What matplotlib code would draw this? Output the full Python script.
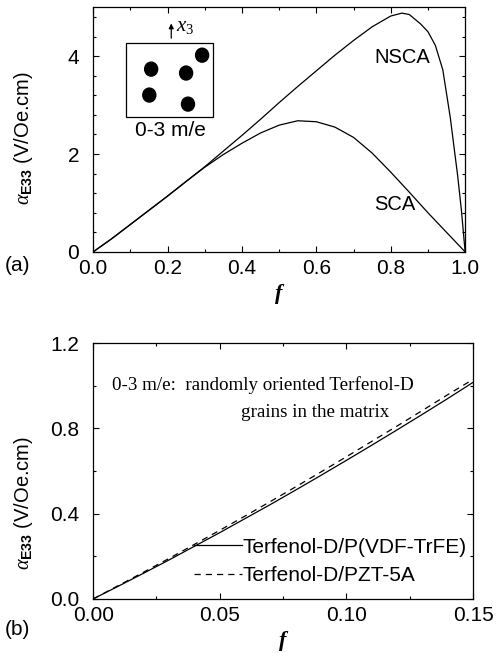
import matplotlib
matplotlib.use("Agg")
import matplotlib.pyplot as plt
from matplotlib.patches import Rectangle, Ellipse
from matplotlib.ticker import MultipleLocator

plt.rcParams['font.family'] = ['Liberation Sans', 'DejaVu Sans']
plt.rcParams['mathtext.fontset'] = 'custom'
plt.rcParams['mathtext.rm'] = 'Liberation Serif'
plt.rcParams['mathtext.it'] = 'Liberation Serif:italic'
plt.rcParams['mathtext.bf'] = 'Liberation Sans:bold'

# ---- panel (a): magnetoelectric coefficient vs volume fraction ----
f_nsca = [0.0, 0.05, 0.10, 0.15, 0.20, 0.25, 0.30, 0.35, 0.40, 0.45, 0.50,
          0.55, 0.60, 0.65, 0.70, 0.75, 0.80, 0.83, 0.85, 0.88, 0.90, 0.92,
          0.94, 0.96, 0.98, 0.99, 1.0]
a_nsca = [0.0, 0.27, 0.56, 0.85, 1.14, 1.44, 1.74, 2.06, 2.38, 2.71, 3.05,
          3.38, 3.70, 4.02, 4.32, 4.60, 4.82, 4.88, 4.85, 4.66, 4.50, 4.22,
          3.72, 2.75, 1.55, 0.85, 0.0]

f_sca = [0.0, 0.05, 0.10, 0.15, 0.20, 0.25, 0.30, 0.35, 0.40, 0.45, 0.50,
         0.55, 0.60, 0.65, 0.70, 0.75, 0.80, 0.85, 0.90, 0.95, 1.0]
a_sca = [0.0, 0.27, 0.56, 0.85, 1.14, 1.44, 1.73, 1.99, 2.22, 2.43, 2.59,
         2.68, 2.66, 2.55, 2.34, 2.02, 1.63, 1.22, 0.80, 0.40, 0.0]

# ---- panel (b): dilute range for two composites ----
f_b = [0.0, 0.01, 0.02, 0.03, 0.04, 0.05, 0.06, 0.07, 0.08, 0.09, 0.10,
       0.11, 0.12, 0.13, 0.14, 0.15]
a_pvdf = [0.0, 0.060, 0.121, 0.183, 0.247, 0.311, 0.377, 0.443, 0.511,
          0.580, 0.650, 0.721, 0.793, 0.866, 0.940, 1.016]
a_pzt = [0.0, 0.063, 0.126, 0.190, 0.256, 0.322, 0.389, 0.457, 0.526,
         0.596, 0.667, 0.739, 0.811, 0.884, 0.958, 1.030]

fig = plt.figure(figsize=(4.98, 6.56), dpi=100)
ax1 = fig.add_axes([0.187, 0.616, 0.747, 0.373])
ax2 = fig.add_axes([0.187, 0.087, 0.763, 0.390])

ylab = r'$\alpha_{\mathbf{E33}}$ (V/Oe.cm)'
FS = 15

def style(ax):
    ax.tick_params(which='both', direction='in', top=True, right=True,
                   labelsize=FS, width=0.8)
    ax.tick_params(which='major', length=4.5)
    ax.tick_params(which='minor', length=2.5)
    ax.tick_params(axis='y', which='major', pad=10)
    ax.tick_params(axis='x', which='major', pad=5)
    for s in ax.spines.values():
        s.set_linewidth(0.9)

xlab_kw = dict(fontsize=16, family='Liberation Serif', style='italic',
               fontweight='bold')

# panel (a)
ax1.plot(f_nsca, a_nsca, color='black', lw=0.9)
ax1.plot(f_sca, a_sca, color='black', lw=0.9)
ax1.set_xlim(0, 1.0)
ax1.set_ylim(0, 5.0)
ax1.xaxis.set_major_locator(MultipleLocator(0.2))
ax1.xaxis.set_minor_locator(MultipleLocator(0.1))
ax1.yaxis.set_major_locator(MultipleLocator(2))
ax1.yaxis.set_minor_locator(MultipleLocator(0.4))
ax1.xaxis.set_major_formatter(plt.FormatStrFormatter('%.1f'))
style(ax1)
ax1.set_xlabel('f', **xlab_kw)
ax1.xaxis.set_label_coords(0.5, -0.13)
ax1.set_ylabel(ylab, fontsize=14.5)
ax1.yaxis.set_label_coords(-0.156, 0.465)
ax1.text(0.83, 0.796, 'NSCA', transform=ax1.transAxes, fontsize=14.5,
         ha='center', va='center')
ax1.text(0.81, 0.192, 'SCA', transform=ax1.transAxes, fontsize=14.5,
         ha='center', va='center')

# inset sketch of the 0-3 particulate composite
ax1.add_patch(Rectangle((0.089, 0.551), 0.234, 0.302, transform=ax1.transAxes,
                        fill=False, lw=0.9, color='black'))
for (x, y) in [(0.156, 0.747), (0.151, 0.641), (0.25, 0.731),
               (0.255, 0.604), (0.293, 0.804)]:
    ax1.add_patch(Ellipse((x, y), 0.035, 0.057, transform=ax1.transAxes,
                          color='black'))
ax1.annotate('', xy=(0.21, 0.945), xytext=(0.21, 0.862),
             xycoords='axes fraction',
             arrowprops=dict(arrowstyle='-|>', color='black', lw=0.9,
                             mutation_scale=7))
ax1.text(0.224, 0.922, r'$x_3$', transform=ax1.transAxes, fontsize=15,
         ha='left', va='center')
ax1.text(0.207, 0.496, '0-3 m/e', transform=ax1.transAxes, fontsize=FS,
         ha='center', va='center')
fig.text(0.01, 0.596, '(a)', fontsize=FS, ha='left', va='center')

# panel (b)
ax2.plot(f_b, a_pvdf, color='black', lw=0.9, ls='-',
         label='Terfenol-D/P(VDF-TrFE)')
ax2.plot(f_b, a_pzt, color='black', lw=0.9, ls=(0, (5, 4)),
         label='Terfenol-D/PZT-5A')
ax2.set_xlim(0, 0.15)
ax2.set_ylim(0, 1.2)
ax2.xaxis.set_major_locator(MultipleLocator(0.05))
ax2.xaxis.set_minor_locator(MultipleLocator(0.025))
ax2.yaxis.set_major_locator(MultipleLocator(0.4))
ax2.yaxis.set_minor_locator(MultipleLocator(0.2))
ax2.xaxis.set_major_formatter(plt.FormatStrFormatter('%.2f'))
ax2.yaxis.set_major_formatter(plt.FormatStrFormatter('%.1f'))
style(ax2)
ax2.set_xlabel('f', **xlab_kw)
ax2.xaxis.set_label_coords(0.5, -0.125)
ax2.set_ylabel(ylab, fontsize=14.5)
ax2.yaxis.set_label_coords(-0.153, 0.375)
ax2.text(0.05, 0.836, '0-3 m/e:  randomly oriented Terfenol-D',
         transform=ax2.transAxes, fontsize=13.7, family='Liberation Serif',
         ha='left', va='center')
ax2.text(0.39, 0.727, 'grains in the matrix',
         transform=ax2.transAxes, fontsize=13.7, family='Liberation Serif',
         ha='left', va='center')
ax2.legend(loc='lower right', bbox_to_anchor=(1.0, 0.03), frameon=False,
           fontsize=FS, handlelength=2.3, handletextpad=0.05,
           labelspacing=0.45, borderaxespad=0, borderpad=0.3)
fig.text(0.01, 0.04, '(b)', fontsize=FS, ha='left', va='center')

fig.savefig('out.png', dpi=100)
